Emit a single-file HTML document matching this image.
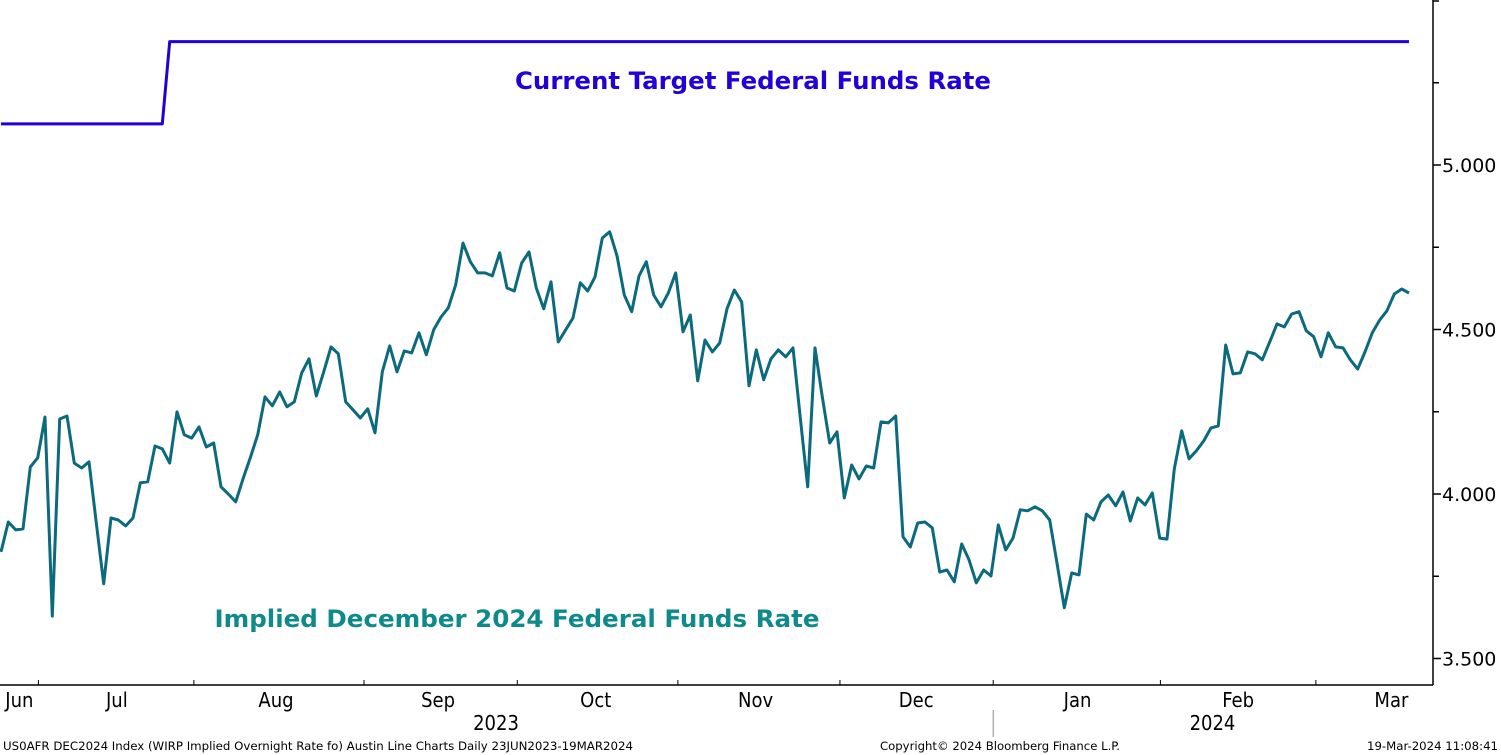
<!DOCTYPE html>
<html>
<head>
<meta charset="utf-8">
<style>
html,body{margin:0;padding:0;background:#fff;}
svg{display:block;}
</style>
</head>
<body>
<svg id="chart" width="1501" height="755" xmlns="http://www.w3.org/2000/svg">
  <g id="axes"></g>
  <g id="series"></g>
  <text x="753" y="89" text-anchor="middle" textLength="476" lengthAdjust="spacingAndGlyphs" font-family="DejaVu Sans, Verdana, sans-serif" font-weight="bold" font-size="24" fill="#2200d8">Current Target Federal Funds Rate</text>
  <text x="517" y="627" text-anchor="middle" textLength="605" lengthAdjust="spacingAndGlyphs" font-family="DejaVu Sans, Verdana, sans-serif" font-weight="bold" font-size="24" fill="#0f8a8a">Implied December 2024 Federal Funds Rate</text>
  <text x="3" y="750" font-family="DejaVu Sans Condensed, Liberation Sans Narrow, sans-serif" font-size="11.5" textLength="630" lengthAdjust="spacingAndGlyphs" fill="#000">US0AFR DEC2024 Index (WIRP Implied Overnight Rate fo) Austin Line Charts  Daily 23JUN2023-19MAR2024</text>
  <text x="880" y="750" font-family="DejaVu Sans Condensed, Liberation Sans Narrow, sans-serif" font-size="11.5" textLength="240" lengthAdjust="spacingAndGlyphs" fill="#000">Copyright© 2024 Bloomberg Finance L.P.</text>
  <text x="1498" y="750" text-anchor="end" font-family="DejaVu Sans Condensed, Liberation Sans Narrow, sans-serif" font-size="11.5" textLength="131" lengthAdjust="spacingAndGlyphs" fill="#000">19-Mar-2024 11:08:41</text>
</svg>
<script>
// ---- data ----
const impliedRate = [
3.824,3.915,3.891,3.894,4.082,4.110,4.234,3.629,4.228,4.237,
4.094,4.079,4.098,3.912,3.727,3.927,3.921,3.903,3.927,4.034,
4.037,4.146,4.137,4.094,4.250,4.180,4.170,4.204,4.143,4.155,
4.022,4.000,3.976,4.046,4.110,4.180,4.295,4.268,4.310,4.265,
4.280,4.368,4.411,4.298,4.371,4.447,4.426,4.280,4.256,4.231,
4.259,4.186,4.371,4.450,4.371,
4.435,4.429,4.490,4.423,4.499,4.538,4.566,4.636,4.763,4.706,
4.672,4.672,4.663,4.733,4.626,4.617,4.702,4.736,4.626,4.563,
4.645,4.462,4.499,4.535,4.642,4.617,4.660,4.778,4.797,4.724,
4.605,4.554,4.663,4.706,4.605,4.569,4.611,4.672,4.493,4.544,
4.344,4.468,4.432,4.459,4.563,4.620,4.584,4.329,4.438,4.347,
4.411,4.438,4.417,4.444,4.231,4.022,4.444,
4.295,4.155,4.189,3.988,4.088,4.046,4.085,4.079,4.219,4.216,
4.237,3.870,3.839,3.912,3.915,3.897,3.763,3.769,3.733,3.848,
3.800,3.730,3.769,3.751,3.906,3.830,3.866,3.952,3.949,3.961,
3.949,3.921,3.790,3.654,3.760,3.754,3.939,3.921,3.976,3.997,
3.964,4.006,3.918,3.988,
3.967,4.003,3.866,3.863,4.076,4.192,4.107,4.131,4.161,4.201,
4.207,4.453,4.365,4.368,4.432,4.426,4.408,4.462,4.517,4.508,
4.547,4.554,4.496,4.478,4.417,4.490,4.447,4.444,4.408,4.380,
4.432,4.490,4.529,4.557,4.608,4.623,4.611
];
const targetValues = [5.125, 5.375];
const targetStartIdx = [0, 23];
const yTicks = [3.5, 4.0, 4.5, 5.0];
const yTickLabels = ["3.500", "4.000", "4.500", "5.000"];
const yMinorTicks = [3.75, 4.25, 4.75, 5.25, 5.5];
const monthLabels = ["Jun","Jul","Aug","Sep","Oct","Nov","Dec","Jan","Feb","Mar"];
const monthLabelIdx = [2.5, 15.8, 37.5, 59.6, 81.1, 102.9, 124.8, 146.8, 168.7, 189.6];
const monthTickIdx = [5.1, 26.3, 49.5, 70.4, 92.3, 114.4, 135.3, 158.1, 179.3];
const yearLabels = ["2023", "2024"];
const yearLabelIdx = [67.5, 165.2];
const yearDividerIdx = [135.3];

// ---- scales ----
const X0 = 1, X1 = 1409, AXIS_R = 1433, AXIS_B = 685;
const N = impliedRate.length;
function xs(i){ return X0 + i * (X1 - X0) / (N - 1); }
function ys(v){ return 0.5 + (5.5 - v) * 329; }

const NS = "http://www.w3.org/2000/svg";
const axes = document.getElementById('axes');
const series = document.getElementById('series');
function mk(tag, attrs, parent){
  const e = document.createElementNS(NS, tag);
  for (const k in attrs) e.setAttribute(k, attrs[k]);
  parent.appendChild(e);
  return e;
}

let el = mk('line', {x1:AXIS_R, y1:0, x2:AXIS_R, y2:AXIS_B, stroke:'#000', 'stroke-width':1.5}, axes);


el = mk('line', {x1:0, y1:AXIS_B, x2:AXIS_R, y2:AXIS_B, stroke:'#000', 'stroke-width':1.5}, axes);



yTicks.forEach((v, k) => {
  const y = ys(v);
  let t = mk('line', {x1:AXIS_R, y1:y, x2:AXIS_R+8, y2:y, stroke:'#000', 'stroke-width':1.5}, axes);
  
  
  t = mk('text', {x:AXIS_R+9, y:y+7, 'font-family':'DejaVu Sans, Verdana, sans-serif', 'font-size':19, fill:'#000'}, axes);
  t.textContent = yTickLabels[k];
  
  
});
yMinorTicks.forEach(v => {
  const y = Math.max(ys(v), 1);
  const t = mk('line', {x1:AXIS_R, y1:y, x2:AXIS_R+6, y2:y, stroke:'#000', 'stroke-width':1.5}, axes);
  
  
});
monthTickIdx.forEach(i => {
  const x = xs(i);
  const t = mk('line', {x1:x, y1:AXIS_B, x2:x, y2:AXIS_B-5, stroke:'#000', 'stroke-width':1}, axes);
  
  
});
monthLabels.forEach((m, k) => {
  const t = mk('text', {x:xs(monthLabelIdx[k]), y:707, 'text-anchor':'middle', 'font-family':'DejaVu Sans Condensed, Liberation Sans Narrow, sans-serif', 'font-size':20, fill:'#000'}, axes);
  t.textContent = m;
  
  
});
yearLabels.forEach((yl, k) => {
  const t = mk('text', {x:xs(yearLabelIdx[k]), y:730, 'text-anchor':'middle', 'font-family':'DejaVu Sans Condensed, Liberation Sans Narrow, sans-serif', 'font-size':20, fill:'#000'}, axes);
  t.textContent = yl;
  
  
});
yearDividerIdx.forEach(i => {
  const t = mk('line', {x1:xs(i), y1:710, x2:xs(i), y2:737, stroke:'#888', 'stroke-width':1}, axes);
  
  
});

let tp = '';
targetValues.forEach((v, k) => {
  const s = targetStartIdx[k];
  const e = k + 1 < targetValues.length ? targetStartIdx[k+1] - 1 : N - 1;
  tp += (k === 0 ? 'M' : 'L') + xs(s).toFixed(1) + ',' + ys(v).toFixed(1) + ' L' + xs(e).toFixed(1) + ',' + ys(v).toFixed(1) + ' ';
});
el = mk('path', {d:tp, fill:'none', stroke:'#2200d8', 'stroke-width':3, 'stroke-linejoin':'round'}, series);



const ip = impliedRate.map((v, i) => (i ? 'L' : 'M') + xs(i).toFixed(1) + ',' + ys(v).toFixed(1)).join(' ');
el = mk('path', {d:ip, fill:'none', stroke:'#0b6a7e', 'stroke-width':3, 'stroke-linejoin':'round'}, series);


</script>
</body>
</html>
